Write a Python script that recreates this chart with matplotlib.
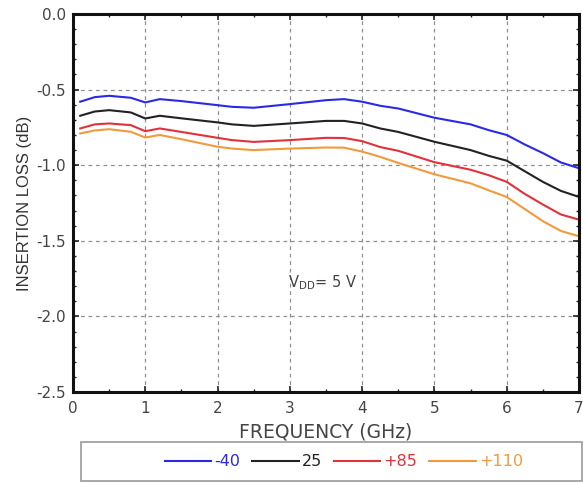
import matplotlib
matplotlib.use("Agg")
import matplotlib.pyplot as plt
from matplotlib.ticker import MultipleLocator
from matplotlib.patches import Rectangle
import numpy as np

plt.rcParams['font.family'] = ['DejaVu Sans']

freq = [0.1, 0.3, 0.5, 0.8, 1.0, 1.2, 1.5, 2.0, 2.2, 2.5, 3.0, 3.5, 3.75, 4.0, 4.25, 4.5, 5.0, 5.5, 5.75, 6.0, 6.25, 6.5, 6.75, 7.0]
loss_m40 = [-0.58, -0.55, -0.541, -0.554, -0.585, -0.563, -0.576, -0.603, -0.614, -0.62, -0.596, -0.57, -0.563, -0.58, -0.607, -0.625, -0.686, -0.73, -0.768, -0.80, -0.863, -0.92, -0.982, -1.02]
loss_25 = [-0.673, -0.645, -0.636, -0.651, -0.691, -0.673, -0.69, -0.717, -0.73, -0.74, -0.724, -0.707, -0.707, -0.724, -0.757, -0.78, -0.845, -0.90, -0.938, -0.97, -1.04, -1.11, -1.17, -1.21]
loss_85 = [-0.757, -0.73, -0.724, -0.735, -0.775, -0.757, -0.78, -0.819, -0.834, -0.846, -0.834, -0.819, -0.82, -0.841, -0.88, -0.905, -0.98, -1.03, -1.066, -1.11, -1.19, -1.26, -1.326, -1.36]
loss_110 = [-0.79, -0.77, -0.762, -0.779, -0.817, -0.80, -0.828, -0.878, -0.89, -0.90, -0.89, -0.883, -0.884, -0.91, -0.945, -0.985, -1.06, -1.12, -1.166, -1.21, -1.29, -1.37, -1.435, -1.47]

series = [
    ("-40", loss_m40, "#2a2ae6"),
    ("25", loss_25, "#222222"),
    ("+85", loss_85, "#e3313c"),
    ("+110", loss_110, "#f29a3a"),
]

fig = plt.figure(figsize=(5.83, 4.84), dpi=100)
ax = fig.add_axes([73/583, 1-392/484, (579-73)/583, (392-14)/484])

for name, vals, col in series:
    ax.plot(freq, vals, color=col, lw=1.5, label=name, solid_joinstyle='round')

ax.set_xlim(0, 7)
ax.set_ylim(-2.5, 0.0)
ax.xaxis.set_major_locator(MultipleLocator(1))
ax.xaxis.set_minor_locator(MultipleLocator(0.5))
ax.yaxis.set_minor_locator(MultipleLocator(0.1))
yt = np.arange(-2.5, 0.01, 0.5)
ax.set_yticks(yt)
ax.set_yticklabels([f"{v:.1f}" for v in yt])

ax.grid(True, which='major', color='#909090', linestyle=(0, (3, 3)), lw=0.9)
ax.tick_params(which='both', direction='in', top=True, right=True, colors='#222222',
               labelcolor='#444444', labelsize=11)
ax.tick_params(which='major', length=4, width=1.2, pad=5)
ax.tick_params(axis='x', which='major', pad=6.5)
ax.tick_params(which='minor', length=2.5, width=1.0)
for s in ax.spines.values():
    s.set_linewidth(2.2)
    s.set_color('#111111')

ax.set_xlabel("FREQUENCY (GHz)", fontsize=13.5, color='#444444', labelpad=5)
ax.set_ylabel("INSERTION LOSS (dB)", fontsize=12, color='#333333', labelpad=3,
              family=['Liberation Sans', 'DejaVu Sans'])

ax.text(2.98, -1.78, "V$_{\\mathregular{DD}}$= 5 V", fontsize=10.5, color='#444444',
        ha='left', va='center')

fig.patches.append(Rectangle((81/583, 3/484), 501/583, 39/484, transform=fig.transFigure,
                             fill=False, edgecolor='#999999', lw=1.2))
leg = fig.legend(loc='center', ncol=4, bbox_to_anchor=(344/583, 22/484),
                 frameon=False, fontsize=11.5, handlelength=2.9,
                 handletextpad=0.2, columnspacing=0.75, borderaxespad=0)
for txt, (_, _, col) in zip(leg.get_texts(), series):
    txt.set_color(col)

fig.savefig("out.png", dpi=100)
